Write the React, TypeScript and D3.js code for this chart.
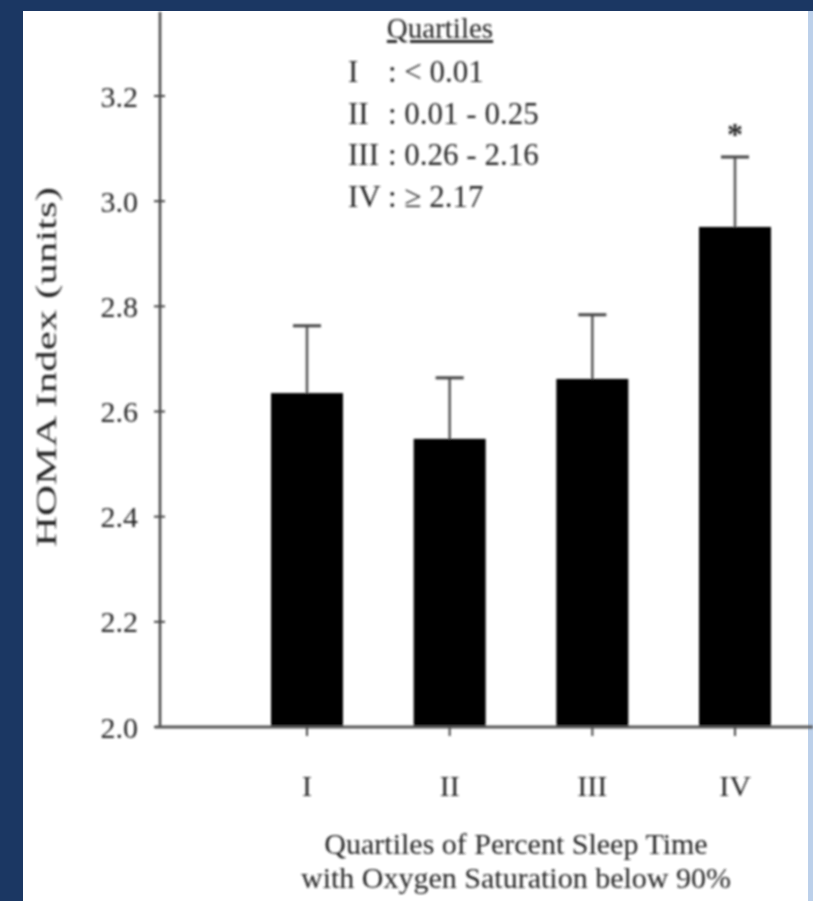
import React from "react";
import * as d3 from "d3";

const categories = ["I", "II", "III", "IV"];
const means = [2.635, 2.548, 2.662, 2.951];
const errorTops = [2.763, 2.664, 2.784, 3.084];
const significant = [false, false, false, true];
const yTicks = [2.0, 2.2, 2.4, 2.6, 2.8, 3.0, 3.2];
const legendTitle = "Quartiles";
const legendNumerals = ["I", "II", "III", "IV"];
const legendRanges = [": < 0.01", ": 0.01 - 0.25", ": 0.26 - 2.16", ": \u2265 2.17"];
const yTitle = "HOMA Index (units)";
const xTitleLines = ["Quartiles of Percent Sleep Time", "with Oxygen Saturation below 90%"];

const W = 813;
const H = 901;

export default function App() {
  const y = d3.scaleLinear().domain([2.0, 3.2]).range([727, 96]);
  const x = d3.scalePoint<string>().domain(categories).range([307, 735]);
  const barW = 72;
  const capW = 28;
  const font = "Liberation Serif, Times New Roman, serif";
  const ink = "#262626";
  const axisX = 160;
  const axisY = y(2.0);

  return (
    <svg
      width={W}
      height={H}
      style={{ position: "absolute", left: 0, top: 0, display: "block" }}
      fontFamily={font}
    >
      <defs>
        <filter id="soft" x="-5%" y="-5%" width="110%" height="110%">
          <feGaussianBlur stdDeviation={0.9} />
        </filter>
      </defs>
      <rect x={0} y={0} width={W} height={H} fill="#1b3763" />
      <rect x={23} y={11} width={W - 23} height={H - 11} fill="#ffffff" />
      <rect x={808} y={11} width={5} height={H - 11} fill="#bcd0ea" />

      <g filter="url(#soft)">
        {/* bars */}
        {categories.map((c, i) => (
          <g key={c}>
            <line
              x1={x(c)!}
              x2={x(c)!}
              y1={y(means[i])}
              y2={y(errorTops[i])}
              stroke="#555"
              strokeWidth={2.5}
            />
            <line
              x1={x(c)! - capW / 2}
              x2={x(c)! + capW / 2}
              y1={y(errorTops[i])}
              y2={y(errorTops[i])}
              stroke="#444"
              strokeWidth={3}
            />
            <rect
              x={x(c)! - barW / 2}
              y={y(means[i])}
              width={barW}
              height={axisY - y(means[i])}
              fill="#050505"
            />
            {significant[i] && (
              <text
                x={x(c)!}
                y={y(errorTops[i]) - 12}
                textAnchor="middle"
                fontSize={32}
                fontWeight="bold"
                fill={ink}
              >
                *
              </text>
            )}
          </g>
        ))}

        {/* y axis */}
        <line x1={axisX} x2={axisX} y1={12} y2={axisY} stroke="#444" strokeWidth={2.5} />
        {yTicks.map((t) => (
          <g key={t}>
            <line x1={axisX - 6} x2={axisX + 5} y1={y(t)} y2={y(t)} stroke="#444" strokeWidth={2} />
            <text
              x={138}
              y={y(t)}
              dy="0.35em"
              textAnchor="end"
              fontSize={30}
              fill={ink}
            >
              {t.toFixed(1)}
            </text>
          </g>
        ))}

        {/* x axis */}
        <line x1={155} x2={W} y1={axisY} y2={axisY} stroke="#555" strokeWidth={3} />
        {categories.map((c) => (
          <g key={c}>
            <line x1={x(c)!} x2={x(c)!} y1={axisY} y2={axisY + 9} stroke="#444" strokeWidth={2} />
            <text x={x(c)!} y={796} textAnchor="middle" fontSize={30} fill={ink}>
              {c}
            </text>
          </g>
        ))}

        {/* axis titles */}
        <text
          transform={`translate(56, 367) rotate(-90)`}
          textAnchor="middle"
          fontSize={30}
          fill={ink}
          textLength={360}
          lengthAdjust="spacingAndGlyphs"
        >
          {yTitle}
        </text>
        {xTitleLines.map((l, i) => (
          <text key={i} x={516} y={854 + i * 34} textAnchor="middle" fontSize={30} fill={ink}>
            {l}
          </text>
        ))}

        {/* legend */}
        <text
          x={440}
          y={38}
          textAnchor="middle"
          fontSize={29}
          fill={ink}
          textDecoration="underline"
        >
          {legendTitle}
        </text>
        {legendNumerals.map((n, i) => (
          <g key={n}>
            <text x={348} y={82 + i * 41.5} fontSize={31} fill={ink}>
              {n}
            </text>
            <text x={388} y={82 + i * 41.5} fontSize={31} fill={ink}>
              {legendRanges[i]}
            </text>
          </g>
        ))}
      </g>
    </svg>
  );
}
